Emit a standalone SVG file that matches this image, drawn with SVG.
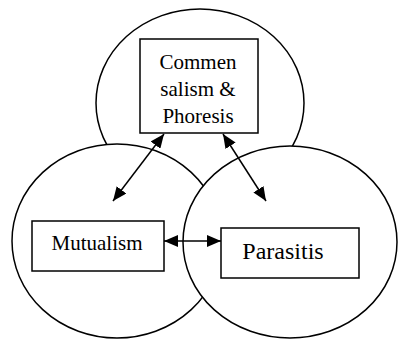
<svg xmlns="http://www.w3.org/2000/svg" width="398" height="339" viewBox="0 0 398 339">
<defs>
<style>
.c{fill:#fff;stroke:#000;stroke-width:1.5}
.b{fill:#fff;stroke:#000;stroke-width:1.5}
.t{font-family:"Liberation Serif","Times New Roman",serif;fill:#000;text-anchor:middle}
.l{stroke:#000;stroke-width:1.5;fill:none;marker-start:url(#a);marker-end:url(#a)}
</style>
<marker id="a" viewBox="0 0 14 12" refX="14" refY="6" markerWidth="14" markerHeight="12" markerUnits="userSpaceOnUse" orient="auto-start-reverse">
<path d="M0,0 L14,6 L0,12 z" fill="#000"/>
</marker>
</defs>
<rect width="398" height="339" fill="#fff"/>
<g id="circle-top"><ellipse class="c" cx="200" cy="103" rx="104" ry="94"/></g>
<g id="circle-left"><ellipse class="c" cx="117" cy="241" rx="105" ry="97"/></g>
<g id="circle-right"><ellipse class="c" cx="290" cy="242" rx="107" ry="96"/></g>
<g id="node-commensalism">
<rect class="b" x="140" y="39" width="118" height="94"/>
<text class="t" font-size="21" x="198" y="69">Commen</text>
<text class="t" font-size="21" x="198" y="96">salism &amp;</text>
<text class="t" font-size="21" x="198" y="123">Phoresis</text>
</g>
<g id="node-mutualism">
<rect class="b" x="32" y="221" width="132" height="50"/>
<text class="t" font-size="21" x="97" y="250">Mutualism</text>
</g>
<g id="node-parasitis">
<rect class="b" x="221" y="228" width="138" height="50"/>
<text class="t" font-size="24" x="283" y="259">Parasitis</text>
</g>
<g id="connectors">
<line class="l" x1="113" y1="201" x2="164" y2="134"/>
<line class="l" x1="266" y1="201" x2="223" y2="134"/>
<line class="l" x1="164" y1="241" x2="221" y2="241"/>
</g>
</svg>
